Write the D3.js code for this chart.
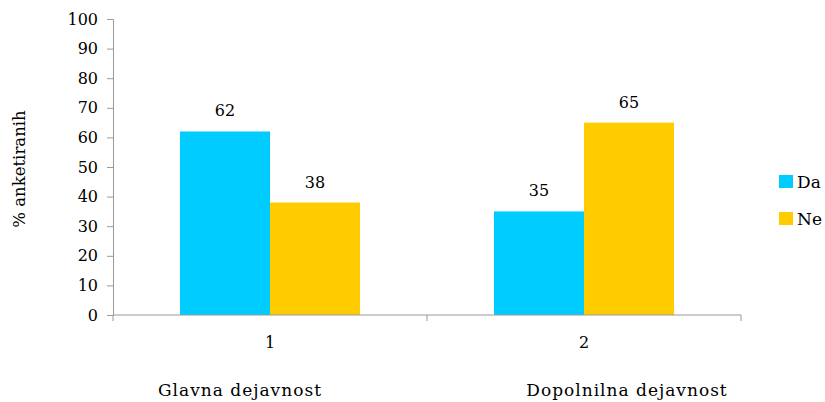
<!DOCTYPE html>
<html>
<head>
<meta charset="utf-8">
<script src="https://cdn.jsdelivr.net/npm/d3@7"></script>
</head>
<body style="margin:0;background:#fff">
<svg width="825" height="402"></svg>
<script>
// chart data
var categories = ["1", "2"];
var categoryNames = ["Glavna dejavnost", "Dopolnilna dejavnost"];
var series = ["Da", "Ne"];
var values = {
  "Da": [62, 35],
  "Ne": [38, 65]
};
var colors = ["#00ccff", "#ffcc00"];
var yTicks = [0, 10, 20, 30, 40, 50, 60, 70, 80, 90, 100];

var fontName = "DejaVu Serif";
var svg = d3.select("svg");
var plotLeft = 113, plotRight = 741, plotTop = 19, plotBottom = 315;
// the name captions sit a bit off the category centres (hand placed in the original)
var nameShift = [-30, 43];

var x = d3.scaleBand().domain(categories).range([plotLeft, plotRight]).paddingInner(0).paddingOuter(0);
var xInner = d3.scaleBand().domain(series).range([0, 180]);
var y = d3.scaleLinear().domain([0, 100]).range([plotBottom, plotTop]);

// y axis
var yAxis = svg.append("g")
  .attr("transform", "translate(" + plotLeft + ",0)")
  .call(d3.axisLeft(y).tickValues(yTicks).tickSize(6).tickPadding(9));
yAxis.attr("font-family", fontName).attr("font-size", 16);
yAxis.select(".domain").attr("stroke", "#999");
yAxis.selectAll(".tick line").attr("stroke", "#999");
yAxis.selectAll(".tick text").attr("fill", "#000");

// bars + value labels
categories.forEach(function(c, i){
  var g = svg.append("g")
    .attr("transform", "translate(" + (x(c) + x.bandwidth()/2 - 90) + ",0)");
  series.forEach(function(s, j){
    var v = values[s][i];
    g.append("rect")
      .attr("x", xInner(s))
      .attr("y", y(v))
      .attr("width", xInner.bandwidth())
      .attr("height", plotBottom - y(v))
      .attr("fill", colors[j]);
    g.append("text")
      .attr("x", xInner(s) + xInner.bandwidth()/2)
      .attr("y", y(v) - 15)
      .attr("text-anchor", "middle")
      .attr("font-family", fontName)
      .attr("font-size", 16)
      .text(v);
  });
});

// x axis, ticks sit between categories
var xAxis = svg.append("g");
xAxis.append("line")
  .attr("x1", plotLeft).attr("x2", plotRight)
  .attr("y1", plotBottom).attr("y2", plotBottom)
  .attr("stroke", "#999");
[plotLeft, x("2"), plotRight].forEach(function(px){
  xAxis.append("line")
    .attr("x1", px).attr("x2", px)
    .attr("y1", plotBottom).attr("y2", plotBottom + 6)
    .attr("stroke", "#999");
});
categories.forEach(function(c, i){
  svg.append("text")
    .attr("x", x(c) + x.bandwidth()/2)
    .attr("y", 348)
    .attr("text-anchor", "middle")
    .attr("font-family", fontName)
    .attr("font-size", 16)
    .text(c);
  svg.append("text")
    .attr("x", x(c) + x.bandwidth()/2 + nameShift[i])
    .attr("y", 396)
    .attr("text-anchor", "middle")
    .attr("font-family", fontName)
    .attr("font-size", 17)
    .attr("letter-spacing", 1)
    .text(categoryNames[i]);
});

// y label
svg.append("text")
  .attr("transform", "translate(25,169) rotate(-90)")
  .attr("text-anchor", "middle")
  .attr("font-family", fontName)
  .attr("font-size", 16.5)
  .text("% anketiranih");

// legend
var legend = svg.append("g").attr("transform", "translate(779,175)");
series.forEach(function(s, j){
  legend.append("rect")
    .attr("x", 0).attr("y", j*37)
    .attr("width", 14).attr("height", 13)
    .attr("fill", colors[j]);
  legend.append("text")
    .attr("x", 18).attr("y", j*37 + 13)
    .attr("font-family", fontName)
    .attr("font-size", 17)
    .text(s);
});
</script>
</body>
</html>
